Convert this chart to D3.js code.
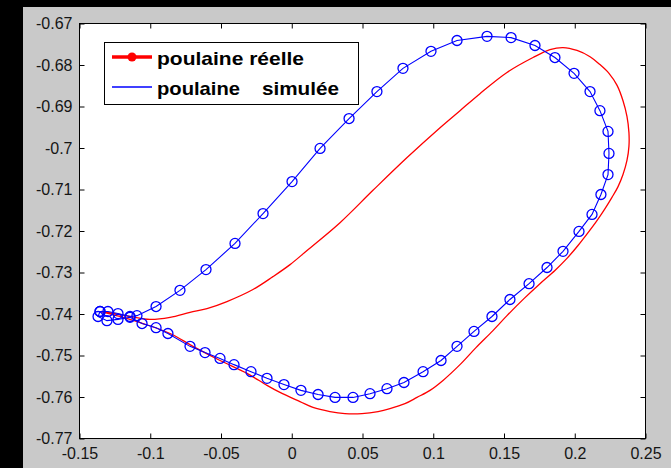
<!DOCTYPE html>
<html><head><meta charset="utf-8">
<script src="https://cdn.jsdelivr.net/npm/d3@7"></script>
<style>
html,body{margin:0;padding:0;background:#000;}
svg{display:block;}
.tick text{font-family:"Liberation Sans",Arial,sans-serif;font-size:16px;fill:#151515;}
</style></head>
<body><svg id="c" width="671" height="468"></svg>
<script>
// ---- data ----
const xTicks = [-0.15,-0.1,-0.05,0,0.05,0.1,0.15,0.2,0.25];
const yTicks = [-0.77,-0.76,-0.75,-0.74,-0.73,-0.72,-0.71,-0.7,-0.69,-0.68,-0.67];
const seriesNames = ["poulaine réelle","poulaine","simulée"];

// poulaine simulée (blue, circle markers)
const blueX = [-0.1355,-0.1299,-0.1228,-0.1143,-0.1094,-0.0959,-0.0790,-0.0606,-0.0401,-0.0203,0.0002,0.0200,0.0405,0.0602,0.0786,0.0984,0.1168,0.1380,0.1550,0.1719,0.1860,0.1995,0.2108,0.2178,0.2235,0.2242,0.2235,0.2185,0.2122,0.2030,0.1917,0.1804,0.1677,0.1542,0.1415,0.1288,0.1168,0.1055,0.0928,0.0793,0.0673,0.0553,0.0433,0.0306,0.0186,0.0065,-0.0055,-0.0175,-0.0288,-0.0408,-0.0507,-0.0613,-0.0719,-0.0875,-0.0959,-0.1058,-0.1143,-0.1228,-0.1306,-0.1369,-0.1355];
const blueY = [-0.7394,-0.7394,-0.7399,-0.7406,-0.7404,-0.7382,-0.7343,-0.7293,-0.7230,-0.7158,-0.7081,-0.7001,-0.6929,-0.6864,-0.6808,-0.6767,-0.6741,-0.6731,-0.6734,-0.6753,-0.6782,-0.6820,-0.6864,-0.6910,-0.6960,-0.7013,-0.7064,-0.7112,-0.7160,-0.7201,-0.7249,-0.7288,-0.7327,-0.7365,-0.7406,-0.7442,-0.7478,-0.7512,-0.7539,-0.7565,-0.7580,-0.7592,-0.7601,-0.7601,-0.7594,-0.7584,-0.7570,-0.7555,-0.7539,-0.7522,-0.7507,-0.7493,-0.7478,-0.7447,-0.7433,-0.7423,-0.7408,-0.7413,-0.7416,-0.7406,-0.7394];

// poulaine réelle (red line)
const redX = [-0.1348,-0.1214,-0.1051,-0.0860,-0.0698,-0.0507,-0.0316,-0.0175,-0.0083,0.0058,
  0.0150,0.0270,0.0376,0.0496,0.0610,0.0694,0.0800,0.0885,0.0977,0.1069,
  0.1189,0.1302,0.1422,0.1521,0.1641,0.1754,0.1860,0.1945,0.2023,0.2094,
  0.2157,0.2214,0.2263,0.2306,0.2341,0.2369,0.2383,0.2383,0.2369,0.2341,
  0.2299,0.2242,0.2178,0.2108,0.2016,0.1917,0.1825,0.1705,0.1521,0.1330,
  0.1189,0.1048,0.0815,0.0574,0.0341,0.0108,-0.0012,-0.0133,-0.0274,-0.0458,
  -0.0599,-0.0719,-0.0860,-0.1002,-0.1143,-0.1249,-0.1348];
const redY = [-0.7394,-0.7406,-0.7423,-0.7447,-0.7478,-0.7512,-0.7543,-0.7572,-0.7589,-0.7611,
  -0.7625,-0.7635,-0.7640,-0.7640,-0.7635,-0.7628,-0.7616,-0.7601,-0.7584,-0.7560,
  -0.7522,-0.7481,-0.7440,-0.7404,-0.7363,-0.7327,-0.7295,-0.7266,-0.7235,-0.7204,
  -0.7175,-0.7146,-0.7119,-0.7093,-0.7064,-0.7030,-0.6996,-0.6963,-0.6924,-0.6886,
  -0.6849,-0.6820,-0.6799,-0.6780,-0.6765,-0.6758,-0.6763,-0.6782,-0.6818,-0.6869,
  -0.6910,-0.6951,-0.7023,-0.7102,-0.7180,-0.7247,-0.7281,-0.7310,-0.7341,-0.7370,
  -0.7387,-0.7396,-0.7408,-0.7413,-0.7406,-0.7399,-0.7394];

// ---- drawing ----
const svg = d3.select("#c");
svg.append("rect").attr("x",0).attr("y",0).attr("width",671).attr("height",468).attr("fill","#000");
svg.append("rect").attr("x",23).attr("y",7).attr("width",648).attr("height",461).attr("fill","#c9c9c9");

const L=79.5, R=645.5, T=23.5, B=438.5;
const x = d3.scaleLinear().domain([-0.15,0.25]).range([L,R]);
const y = d3.scaleLinear().domain([-0.77,-0.67]).range([B,T]);

svg.append("rect").attr("x",L).attr("y",T).attr("width",R-L).attr("height",B-T).attr("fill","#fff");

const fmt = d => String(+d.toFixed(2));
const gB = svg.append("g").attr("transform",`translate(0,${B})`)
  .call(d3.axisBottom(x).tickValues(xTicks).tickSizeInner(-5).tickSizeOuter(0).tickPadding(9).tickFormat(fmt));
const gL = svg.append("g").attr("transform",`translate(${L},0)`)
  .call(d3.axisLeft(y).tickValues(yTicks).tickSizeInner(-5).tickSizeOuter(0).tickPadding(7).tickFormat(fmt));
const gT = svg.append("g").attr("transform",`translate(0,${T})`)
  .call(d3.axisTop(x).tickValues(xTicks).tickSizeInner(-5).tickSizeOuter(0).tickFormat(""));
const gR = svg.append("g").attr("transform",`translate(${R},0)`)
  .call(d3.axisRight(y).tickValues(yTicks).tickSizeInner(-5).tickSizeOuter(0).tickFormat(""));
[gB,gL,gT,gR].forEach(g=>{g.select(".domain").remove();g.selectAll(".tick line").attr("stroke","#000");});

svg.append("defs").append("clipPath").attr("id","clip")
  .append("rect").attr("x",L).attr("y",T).attr("width",R-L).attr("height",B-T);
const plot = svg.append("g").attr("clip-path","url(#clip)");

const red = redX.map((v,i)=>[v,redY[i]]);
const blue = blueX.map((v,i)=>[v,blueY[i]]);

plot.append("path").datum(red)
  .attr("d", d3.line().x(d=>x(d[0])).y(d=>y(d[1])).curve(d3.curveCatmullRom))
  .attr("fill","none").attr("stroke","#ff0000").attr("stroke-width",1.3);

plot.append("path").datum(blue)
  .attr("d", d3.line().x(d=>x(d[0])).y(d=>y(d[1])))
  .attr("fill","none").attr("stroke","#0000ff").attr("stroke-width",1.1);
plot.selectAll("circle.m").data(blue).enter().append("circle").attr("class","m")
  .attr("cx",d=>x(d[0])).attr("cy",d=>y(d[1])).attr("r",5)
  .attr("fill","none").attr("stroke","#0000ff").attr("stroke-width",1.3);

// axes box
svg.append("rect").attr("x",L).attr("y",T).attr("width",R-L).attr("height",B-T)
  .attr("fill","none").attr("stroke","#000").attr("stroke-width",1);

// legend
const lg = svg.append("g");
lg.append("rect").attr("x",104.5).attr("y",42.5).attr("width",254).attr("height",62)
  .attr("fill","#fff").attr("stroke","#000").attr("stroke-width",1);
lg.append("line").attr("x1",112).attr("x2",152).attr("y1",57).attr("y2",57).attr("stroke","#ff0000").attr("stroke-width",3.5);
lg.append("circle").attr("cx",132).attr("cy",57).attr("r",4.5).attr("fill","#ff0000");
lg.append("line").attr("x1",112).attr("x2",152).attr("y1",87).attr("y2",87).attr("stroke","#0000ff").attr("stroke-width",1.5);
const tf = s => s.attr("font-family","'Liberation Sans',Arial,sans-serif").attr("font-weight","bold")
  .attr("font-size",19).attr("fill","#000").attr("lengthAdjust","spacingAndGlyphs");
tf(lg.append("text").attr("x",157).attr("y",65).attr("textLength",147).text(seriesNames[0]));
tf(lg.append("text").attr("x",157).attr("y",95).attr("textLength",83).text(seriesNames[1]));
tf(lg.append("text").attr("x",262).attr("y",95).attr("textLength",77).text(seriesNames[2]));
</script></body></html>
